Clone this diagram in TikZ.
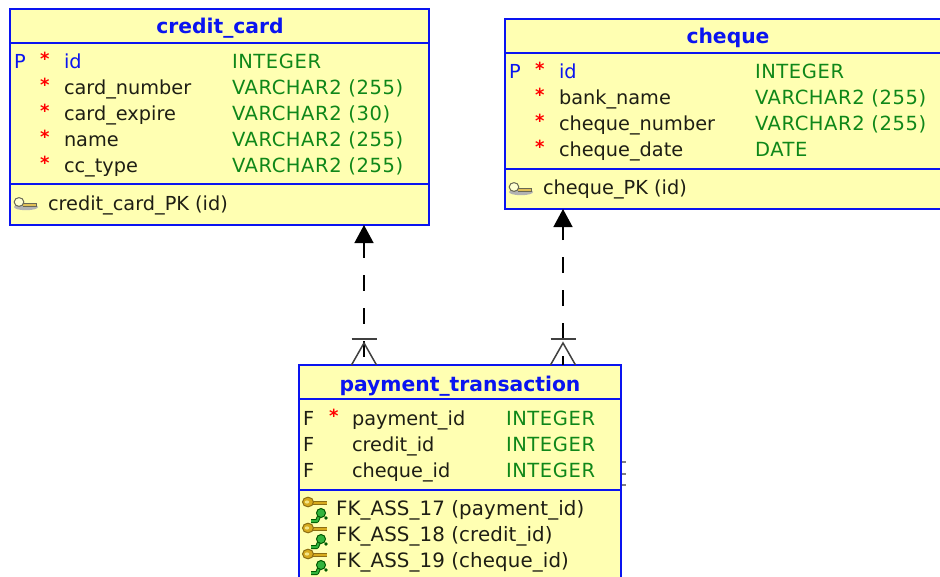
\documentclass[tikz,border=0pt]{standalone}
\usepackage{fontspec}
\setmainfont{DejaVu Sans}
\usetikzlibrary{arrows.meta}
\definecolor{tblfill}{RGB}{255,255,178}
\definecolor{tblblue}{RGB}{10,20,240}
\definecolor{typegreen}{RGB}{15,135,25}
\definecolor{txtblack}{RGB}{30,30,20}
\definecolor{keygold}{RGB}{215,170,30}
\definecolor{keygreen}{RGB}{50,180,60}
\definecolor{keygrey}{RGB}{105,105,85}
\tikzset{
  x=1pt,y=-1pt,
  tbl/.style={draw=tblblue,fill=tblfill,line width=2pt,anchor=north west,inner sep=0pt,outer sep=0pt},
  sepline/.style={draw=tblblue,line width=2pt},
  cell/.style={anchor=base west,inner sep=0pt,outer sep=0pt,font=\fontsize{19.3}{20}\selectfont},
  nm/.style={cell,text=txtblack},
  fkname/.style={cell,text=txtblack,font=\fontsize{19.8}{20}\selectfont\addfontfeature{LetterSpace=0.6}},
  pkname/.style={cell,text=tblblue},
  typ/.style={cell,text=typegreen,font=\fontsize{19.5}{20}\selectfont\addfontfeature{LetterSpace=3}},
  flagp/.style={cell,text=tblblue},
  flagf/.style={cell,text=txtblack},
  req/.style={cell,text=red,yshift=3pt,font=\fontsize{18}{20}\selectfont\bfseries},
  ttl/.style={anchor=base,inner sep=0pt,outer sep=0pt,text=tblblue,font=\fontsize{20.3}{20}\selectfont\bfseries},
  fk/.style={draw=black,line width=1.4pt},
  crow/.style={draw=black!75,line width=1.5pt},
}
% grey primary key icon: #1 = left, #2 = head centre height
\newcommand{\pkicon}[2]{%
  \fill[black!30] (#1+12,#2+5) ellipse [x radius=12,y radius=3.2];
  \draw[keygrey,line width=4pt] (#1+9,#2+3) -- (#1+23,#2+3);
  \draw[keygold!75!white,line width=1.4pt] (#1+9,#2+3) -- (#1+22,#2+3);
  \draw[keygrey,fill=tblfill!60!white,line width=1pt] (#1+5,#2) ellipse [x radius=4.8,y radius=4.4];
}
% gold and green foreign key icon: (#1,#2) = top left
\newcommand{\fkicon}[2]{%
  \draw[keygold!65!black,line width=4.4pt] (#1+9,#2+6) -- (#1+25,#2+6);
  \draw[keygold,line width=2.4pt] (#1+9,#2+6) -- (#1+25,#2+6);
  \draw[keygold!65!black,fill=keygold,line width=1pt] (#1+6,#2+5) ellipse [x radius=5.5,y radius=4.8];
  \fill[tblfill!70!keygold] (#1+5,#2+5) ellipse [x radius=2.2,y radius=1.6];
  \draw[green!35!black,line width=4pt,line join=round] (#1+9,#2+24) -- (#1+15,#2+24) -- (#1+18,#2+17);
  \draw[keygreen,line width=2pt,line join=round] (#1+9,#2+24) -- (#1+15,#2+24) -- (#1+18,#2+17);
  \draw[green!35!black,fill=keygreen,line width=1pt] (#1+19,#2+16) circle [radius=4.5];
  \fill[green!35!black] (#1+24,#2+21) circle [radius=1.8];
}
\begin{document}
\begin{tikzpicture}
\useasboundingbox (0,0) rectangle (940,576);
\clip (0,0) rectangle (940,576);
\fill[white] (0,0) rectangle (940,576);

% tables
\node[tbl,minimum width=419pt,minimum height=216pt] (cc) at (10,9) {};
\node[tbl,minimum width=450pt,minimum height=190pt] (ch) at (505,19) {};
\node[tbl,minimum width=322pt,minimum height=225pt] (pt) at (299,365) {};

% compartment lines
\coordinate (ccA) at (10,43);  \coordinate (ccB) at (10,184);
\coordinate (chA) at (505,53); \coordinate (chB) at (505,169);
\coordinate (ptA) at (299,399);\coordinate (ptB) at (299,490);
\draw[sepline] (ccA) -- (ccA -| cc.east);
\draw[sepline] (ccB) -- (ccB -| cc.east);
\draw[sepline] (chA) -- (chA -| ch.east);
\draw[sepline] (chB) -- (chB -| ch.east);
\draw[sepline] (ptA) -- (ptA -| pt.east);
\draw[sepline] (ptB) -- (ptB -| pt.east);

% credit_card
\node[ttl] (ccT) at (220,33) {credit\_card};
\node[flagp] (cc1p) at (14,68) {P};
\node[req] (cc1s) at (40,68) {*};
\node[req] (cc2s) at (40,94) {*};
\node[req] (cc3s) at (40,120) {*};
\node[req] (cc4s) at (40,146) {*};
\node[req] (cc5s) at (40,172) {*};
\node[pkname] (cc1n) at (64,68) {id};
\node[nm] (cc2n) at (64,94) {card\_number};
\node[nm] (cc3n) at (64,120) {card\_expire};
\node[nm] (cc4n) at (64,146) {name};
\node[nm] (cc5n) at (64,172) {cc\_type};
\node[typ] (cc1t) at (232,68) {INTEGER};
\node[typ] (cc2t) at (232,94) {VARCHAR2 (255)};
\node[typ] (cc3t) at (232,120) {VARCHAR2 (30)};
\node[typ] (cc4t) at (232,146) {VARCHAR2 (255)};
\node[typ] (cc5t) at (232,172) {VARCHAR2 (255)};
\pkicon{14}{202}
\node[nm] (ccK) at (48,210) {credit\_card\_PK (id)};

% cheque
\node[ttl] (chT) at (728,43) {cheque};
\node[flagp] (ch1p) at (509,78) {P};
\node[req] (ch1s) at (535,78) {*};
\node[req] (ch2s) at (535,104) {*};
\node[req] (ch3s) at (535,130) {*};
\node[req] (ch4s) at (535,156) {*};
\node[pkname] (ch1n) at (559,78) {id};
\node[nm] (ch2n) at (559,104) {bank\_name};
\node[nm] (ch3n) at (559,130) {cheque\_number};
\node[nm] (ch4n) at (559,156) {cheque\_date};
\node[typ] (ch1t) at (755,78) {INTEGER};
\node[typ] (ch2t) at (755,104) {VARCHAR2 (255)};
\node[typ] (ch3t) at (755,130) {VARCHAR2 (255)};
\node[typ] (ch4t) at (755,156) {DATE};
\pkicon{509}{187}
\node[nm] (chK) at (543,194) {cheque\_PK (id)};

% payment_transaction
\node[ttl] (ptT) at (460,391) {payment\_transaction};
\node[flagf] (pt1f) at (303,425) {F};
\node[flagf] (pt2f) at (303,451) {F};
\node[flagf] (pt3f) at (303,477) {F};
\node[req] (pt1s) at (329,425) {*};
\node[nm] (pt1n) at (352,425) {payment\_id};
\node[nm] (pt2n) at (352,451) {credit\_id};
\node[nm] (pt3n) at (352,477) {cheque\_id};
\node[typ] (pt1t) at (506,425) {INTEGER};
\node[typ] (pt2t) at (506,451) {INTEGER};
\node[typ] (pt3t) at (506,477) {INTEGER};
\fkicon{302}{549}
\fkicon{302}{523}
\fkicon{302}{497}
\node[fkname] (ptK1) at (336,515) {FK\_ASS\_17 (payment\_id)};
\node[fkname] (ptK2) at (336,541) {FK\_ASS\_18 (credit\_id)};
\node[fkname] (ptK3) at (336,567) {FK\_ASS\_19 (cheque\_id)};

% connectors
\coordinate (fa) at (364,300);
\coordinate (fb) at (563,300);
\draw[fk,dash pattern=on 16pt off 17pt,dash phase=24.5pt,-{Triangle[length=18pt,width=19pt]}]
  (pt.north -| fa) -- (cc.south -| fa);
\draw[fk,dash pattern=on 16pt off 17pt,dash phase=7pt,-{Triangle[length=18pt,width=19pt]}]
  (pt.north -| fb) -- (ch.south -| fb);
% crow's feet
\foreach \cx in {364,563} {
  \draw[crow] (\cx-12.5,339) -- (\cx+12.5,339);
  \draw[crow] (\cx-12.5,365) -- (\cx,343) -- (\cx+12.5,365);
}
% small marks right of payment_transaction
\foreach \my in {462,474,485} {
  \draw[black!50,line width=1.6pt] (622,\my) -- (626,\my);
}
\end{tikzpicture}
\end{document}
